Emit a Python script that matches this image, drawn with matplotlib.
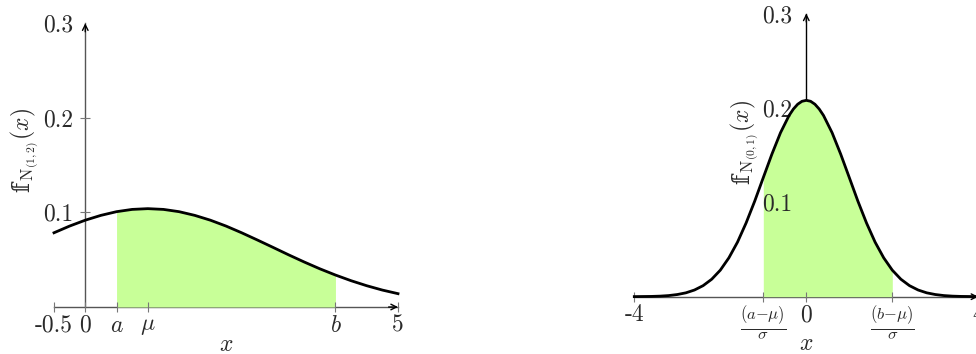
import matplotlib
matplotlib.use("Agg")
import matplotlib.pyplot as plt
from matplotlib import font_manager
from matplotlib.ft2font import FT2Font
from matplotlib.font_manager import FontProperties
import numpy as np

plt.rcParams['mathtext.fontset'] = 'cm'
plt.rcParams['font.family'] = ['cmr10', 'DejaVu Serif']
plt.rcParams['axes.unicode_minus'] = False
plt.rcParams['axes.formatter.use_mathtext'] = True

# ---- data: left panel, density of N(1,2) ----
left_x = [-0.5, -0.25, 0.0, 0.25, 0.5, 0.75, 1.0, 1.25, 1.5, 1.75, 2.0, 2.25,
          2.5, 2.75, 3.0, 3.25, 3.5, 3.75, 4.0, 4.25, 4.5, 4.75, 5.0]
left_y = [0.0785, 0.0856, 0.0918, 0.0969, 0.1008, 0.1032, 0.1040, 0.1032,
          0.1008, 0.0969, 0.0918, 0.0856, 0.0785, 0.0709, 0.0631, 0.0552,
          0.0476, 0.0404, 0.0338, 0.0278, 0.0225, 0.0179, 0.0141]
left_a, left_b = 0.5, 4.0
left_xticks = [-0.5, 0.0, 0.5, 1.0, 4.0, 5.0]
left_xticklabels = ['-0.5', '0', r'$a$', r'$\mu$', r'$b$', '5']
left_yticks = [0.1, 0.2, 0.3]
left_yticklabels = ['0.1', '0.2', '0.3']
left_ylabel_sub = r'$_{\mathrm{N}_{(1,2)}}(x)$'

# ---- data: right panel, standard normal ----
right_x = [-4.0, -3.8, -3.6, -3.4, -3.2, -3.0, -2.8, -2.6, -2.4, -2.2, -2.0,
           -1.8, -1.6, -1.4, -1.2, -1.0, -0.8, -0.6, -0.4, -0.3, -0.2, -0.1,
           0.0, 0.1, 0.2, 0.3, 0.4, 0.6, 0.8, 1.0, 1.2, 1.4, 1.6, 1.8, 2.0,
           2.2, 2.4, 2.6, 2.8, 3.0, 3.2, 3.4, 3.6, 3.8, 4.0]
right_y = [0.0001, 0.0002, 0.0003, 0.0006, 0.0012, 0.0023, 0.0041, 0.0071,
           0.0117, 0.0185, 0.0281, 0.0412, 0.0578, 0.0781, 0.1012, 0.1262,
           0.1510, 0.1737, 0.1920, 0.1988, 0.2039, 0.2070, 0.2080,
           0.2070, 0.2039, 0.1988, 0.1920, 0.1737, 0.1510, 0.1262, 0.1012,
           0.0781, 0.0578, 0.0412, 0.0281, 0.0185, 0.0117, 0.0071, 0.0041,
           0.0023, 0.0012, 0.0006, 0.0003, 0.0002, 0.0001]
right_a, right_b = -1.0, 2.0
right_xticks = [-4.0, -1.0, 0.0, 2.0, 4.0]
right_xticklabels = ['-4', r'$\frac{(a{-}\mu)}{\sigma}$', '0',
                     r'$\frac{(b{-}\mu)}{\sigma}$', '4']
right_yticks = [0.1, 0.2, 0.3]
right_yticklabels = ['0.1', '0.2', '0.3']
right_ylabel_sub = r'$_{\mathrm{N}_{(0,1)}}(x)$'

BBF = '\U0001D557'  # double-struck small f

FILL = '#c8ff98'
AXC = '#555555'
TXT = '#2a2a2a'
FS = 17


def find_bb_font():
    for name in ['DejaVu Serif', 'DejaVu Sans', 'STIXGeneral', 'Noto Sans',
                 'Liberation Serif']:
        try:
            path = font_manager.findfont(FontProperties(family=name),
                                         fallback_to_default=False)
            if FT2Font(path).get_char_index(ord(BBF)) != 0:
                return name
        except Exception:
            pass
    return None


BB_FAMILY = find_bb_font()

fig = plt.figure(figsize=(9.76, 3.54), dpi=100)
W = 344 / 976
axL = fig.add_axes([54 / 976, 47 / 354, W, 283.7 / 354])
axR = fig.add_axes([634.3 / 976, 57.3 / 354, W, 283.2 / 354])


def style(ax, xlim, ylim, ypad):
    ax.set_xlim(*xlim)
    ax.set_ylim(*ylim)
    for s in ['top', 'right']:
        ax.spines[s].set_visible(False)
    ax.spines['left'].set_position(('data', 0))
    ax.spines['bottom'].set_position(('data', 0))
    for s in ['left', 'bottom']:
        ax.spines[s].set_color(AXC)
        ax.spines[s].set_linewidth(1.0)
        ax.spines[s].set_zorder(0.5)
    ax.tick_params(direction='inout', length=7, width=0.8, color='#777777',
                   labelsize=FS, labelcolor=TXT)
    ax.tick_params(axis='x', pad=2)
    ax.tick_params(axis='y', pad=ypad)
    ax.patch.set_visible(False)


def arrows(ax, xend, yend):
    ax.annotate('', xy=(xend, 0), xytext=(xend * 0.97, 0),
                arrowprops=dict(arrowstyle='->', color='black', lw=1.0,
                                shrinkA=0, shrinkB=0), annotation_clip=False)
    ax.annotate('', xy=(0, yend), xytext=(0, yend * 0.97),
                arrowprops=dict(arrowstyle='->', color='black', lw=1.0,
                                shrinkA=0, shrinkB=0), annotation_clip=False)


def ylabel_rot(ax, xa, ya_center, sub):
    """Rotated y label made of a double-struck f plus a math subscript."""
    renderer = fig.canvas.get_renderer()
    if BB_FAMILY is not None:
        t1 = fig.text(0, 0, BBF, family=BB_FAMILY, fontsize=FS, rotation=90,
                      rotation_mode='anchor', ha='left', va='baseline',
                      color=TXT)
    else:
        t1 = fig.text(0, 0, r'$f$', fontsize=FS, rotation=90,
                      rotation_mode='anchor', ha='left', va='baseline',
                      color=TXT)
    t2 = fig.text(0, 0, sub, fontsize=FS, rotation=90,
                  rotation_mode='anchor', ha='left', va='baseline',
                  color=TXT)
    h1 = t1.get_window_extent(renderer).height
    h2 = t2.get_window_extent(renderer).height
    total = h1 + h2
    xd, yd = ax.transAxes.transform((xa, ya_center))
    y0 = yd - total / 2
    inv = fig.transFigure.inverted()
    t1.set_position(inv.transform((xd, y0)))
    t2.set_position(inv.transform((xd, y0 + h1)))


# left panel
style(axL, (-0.5, 5.0), (0, 0.3), 5)
lx = np.array(left_x)
ly = np.array(left_y)
m = (lx >= left_a) & (lx <= left_b)
axL.fill_between(lx[m], 0, ly[m], color=FILL, lw=0, zorder=1)
axL.plot(lx, ly, color='black', lw=2.0, zorder=3, clip_on=False)
axL.set_xticks(left_xticks, left_xticklabels)
axL.set_yticks(left_yticks, left_yticklabels)
axL.yaxis.get_major_ticks()[-1].tick1line.set_visible(False)
arrows(axL, 5.0, 0.3)
axL.set_xlabel(r'$x$', fontsize=FS, color=TXT)
axL.xaxis.set_label_coords(0.5, -0.093)

# right panel
style(axR, (-4.0, 4.0), (0, 0.3), 10)
rx = np.array(right_x)
ry = np.array(right_y)
m = (rx >= right_a) & (rx <= right_b)
axR.fill_between(rx[m], 0, ry[m], color=FILL, lw=0, zorder=1)
axR.plot(rx, ry, color='black', lw=2.0, zorder=3, clip_on=False)
axR.set_xticks(right_xticks, right_xticklabels)
axR.set_yticks(right_yticks, right_yticklabels)
axR.tick_params(axis='y', length=0)
axR.yaxis.set_zorder(1.5)
axR.spines['left'].set_color('black')
arrows(axR, 4.0, 0.3)
axR.set_xlabel(r'$x$', fontsize=FS, color=TXT)
axR.xaxis.set_label_coords(0.5, -0.129)

# y labels (baseline x positions in axes coords)
ylabel_rot(axL, -0.072, 0.553, left_ylabel_sub)
ylabel_rot(axR, 0.334, 0.545, right_ylabel_sub)

fig.savefig('out.png', dpi=100)
